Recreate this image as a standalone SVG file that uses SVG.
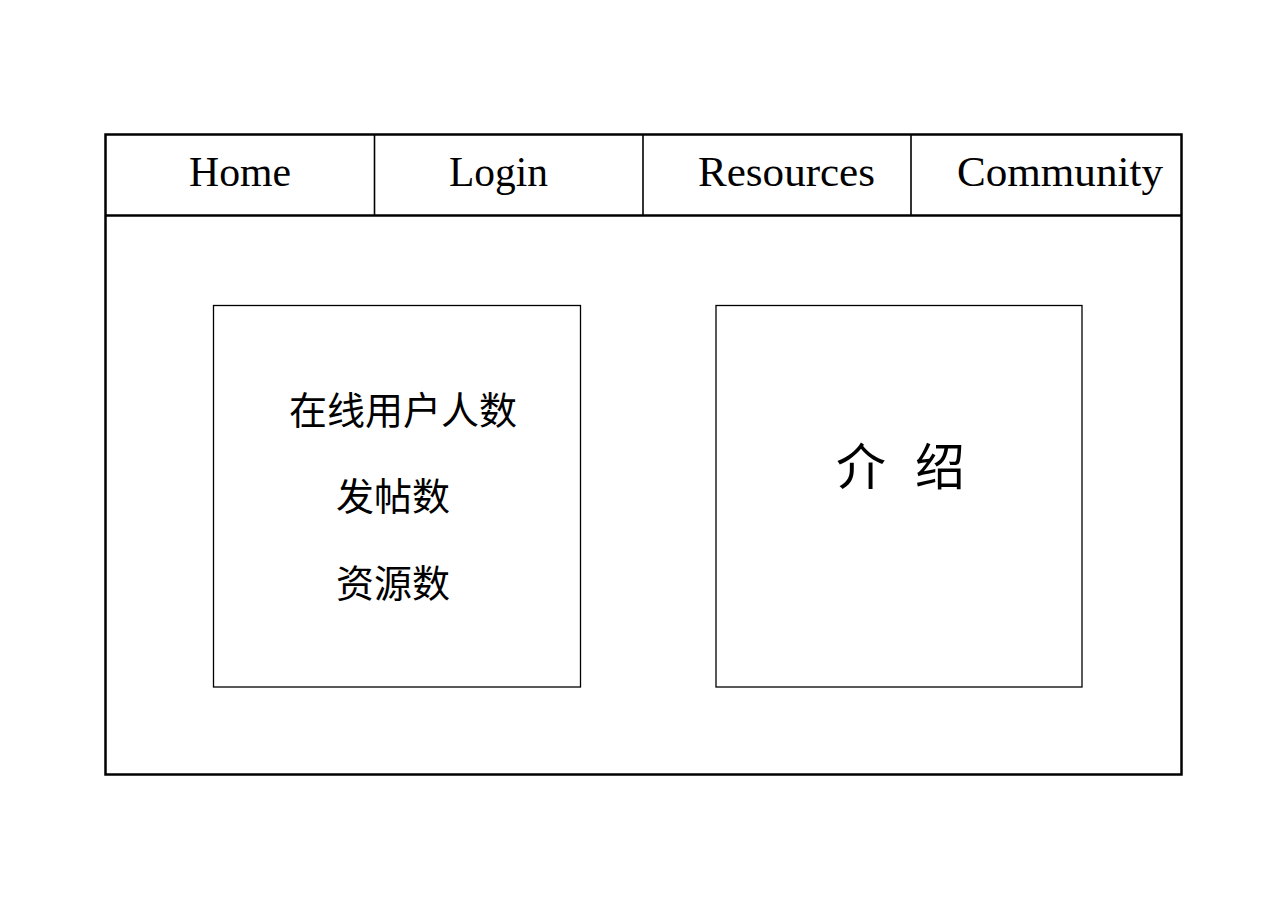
<svg xmlns="http://www.w3.org/2000/svg" width="1269" height="897" viewBox="0 0 1269 897">
<style>
.nav{font-family:"Liberation Serif","DejaVu Serif",serif;font-size:42px;fill:#000}
.cjk{font-family:"Noto Sans CJK SC","Noto Sans",sans-serif;fill:#000}
.box{fill:none;stroke:#000;stroke-width:1.3}
</style>
<rect width="1269" height="897" fill="#fff"/>
<g id="frame">
<rect x="105.5" y="134.5" width="1076" height="640" fill="none" stroke="#000" stroke-width="2.5"/>
<line x1="105.5" y1="215.5" x2="1181.5" y2="215.5" stroke="#000" stroke-width="2.3"/>
<line x1="374.5" y1="134.5" x2="374.5" y2="215.5" stroke="#000" stroke-width="1.6"/>
<line x1="643" y1="134.5" x2="643" y2="215.5" stroke="#000" stroke-width="1.6"/>
<line x1="911" y1="134.5" x2="911" y2="215.5" stroke="#000" stroke-width="1.6"/>
</g>
<g id="nav-home"><text class="nav" x="189" y="186" textLength="102" lengthAdjust="spacingAndGlyphs">Home</text></g>
<g id="nav-login"><text class="nav" x="449" y="186" textLength="99" lengthAdjust="spacingAndGlyphs">Login</text></g>
<g id="nav-resources"><text class="nav" x="698" y="186" textLength="177" lengthAdjust="spacingAndGlyphs">Resources</text></g>
<g id="nav-community"><text class="nav" x="957" y="186" textLength="206" lengthAdjust="spacingAndGlyphs">Community</text></g>
<g id="stats">
<rect class="box" x="213.5" y="305.5" width="367" height="381.5"/>
<text class="cjk" x="289" y="424" font-size="38">在线用户人数</text>
<text class="cjk" x="336" y="510" font-size="38">发帖数</text>
<text class="cjk" x="336" y="597" font-size="38">资源数</text>
</g>
<g id="intro">
<rect class="box" x="716" y="305.5" width="366" height="381.5"/>
<text class="cjk" x="836 886 915" y="485" font-size="50">介 绍</text>
</g>
<g id="connectors"></g>
</svg>
